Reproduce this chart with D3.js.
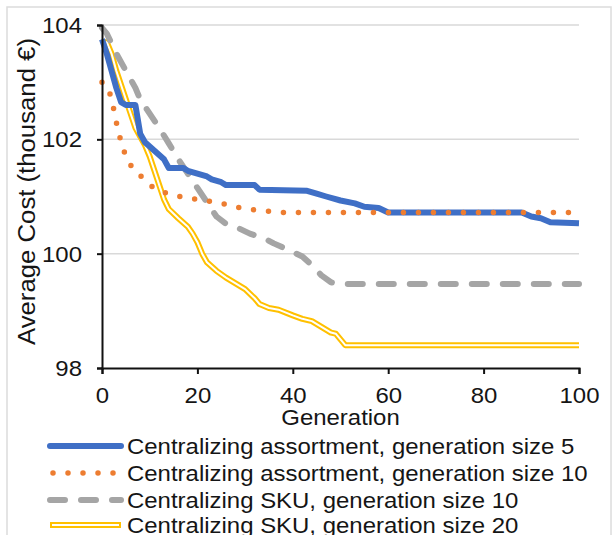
<!DOCTYPE html>
<html>
<head>
<meta charset="utf-8">
<script src="https://cdn.jsdelivr.net/npm/d3@7"></script>
<style>
  html, body { margin: 0; padding: 0; background: #fff; }
  svg { display: block; }
  text { font-family: "Liberation Sans", Arial, sans-serif; fill: #151515; }
</style>
</head>
<body>
<div id="chart"></div>
<script>
// ---- data ----
const seriesNames = [
  "Centralizing assortment, generation size 5",
  "Centralizing assortment, generation size 10",
  "Centralizing SKU, generation size 10",
  "Centralizing SKU, generation size 20"
];
const blueGen = [0,1,2,3,4,5,7,8,9,11,13,14,17,18,20,22,23,25,26,32,33,43,45,47,50,53,55,58,60,88,90,92,94,100];
const blueVal = [103.75,103.5,103.2,102.9,102.65,102.6,102.6,102.1,101.95,101.8,101.65,101.5,101.5,101.45,101.4,101.35,101.3,101.25,101.2,101.2,101.12,101.1,101.05,101.0,100.93,100.88,100.82,100.8,100.72,100.72,100.65,100.62,100.55,100.53];
const orangeGen = [0,1,2,3,4,5,6,7,9,11,15,20,25,30,38,100];
const orangeVal = [103.0,102.95,102.72,102.3,101.95,101.7,101.55,101.43,101.3,101.13,101.02,100.95,100.88,100.78,100.72,100.72];
const greyGen = [0,1,3,5,7,8,10,12,14,16,18,20,22,24,26,28,31,34,36,40,42,44,46,48,50,100];
const greyVal = [103.95,103.85,103.5,103.2,102.9,102.7,102.45,102.2,101.93,101.65,101.4,101.15,100.9,100.65,100.52,100.47,100.35,100.27,100.18,100.03,99.95,99.8,99.62,99.5,99.47,99.47];
const yellowGen = [0,1,2,3,4,5,6,7,8,9,10,11,12,13,14,16,18,19,20,21,22,24,26,28,30,32,33,35,37,40,42,44,46,48,49,50,51,100];
const yellowVal = [103.7,103.7,103.5,103.2,102.95,102.7,102.45,102.2,102.05,101.9,101.7,101.45,101.2,100.95,100.78,100.62,100.47,100.35,100.2,100.0,99.85,99.7,99.58,99.48,99.38,99.22,99.12,99.05,99.02,98.92,98.86,98.82,98.72,98.62,98.6,98.5,98.4,98.4];
const xTicks = [0,20,40,60,80,100];
const yTicks = [98,100,102,104];
const xTitle = "Generation";
const yTitle = "Average Cost (thousand €)";

const W = 616, H = 535;
const FS = 21.5, SX = 1.115;   // font size and horizontal stretch of the reference text
const svg = d3.select("#chart").append("svg").attr("width", W).attr("height", H);

// frame
svg.append("rect").attr("x", 7).attr("y", 7).attr("width", 604).attr("height", 540)
  .attr("fill", "#fff").attr("stroke", "#dcdcdc").attr("stroke-width", 1.5);

const x = d3.scaleLinear().domain([0, 100]).range([102, 579]);
const y = d3.scaleLinear().domain([98, 104]).range([368, 25]);

// gridlines
svg.append("g").selectAll("line").data(yTicks.filter(d => d !== 98)).join("line")
  .attr("x1", x(0)).attr("x2", x(100))
  .attr("y1", d => y(d)).attr("y2", d => y(d))
  .attr("stroke", "#d9d9d9").attr("stroke-width", 1.5);

// series
const mk = (g, v) => g.map((d, i) => [d, v[i]]);
const line = d3.line().x(d => x(d[0])).y(d => y(d[1]));
const plot = svg.append("g");

plot.append("path").datum(mk(yellowGen, yellowVal)).attr("d", line)
  .attr("fill", "none").attr("stroke", "#FFC000").attr("stroke-width", 6).attr("stroke-linejoin", "round");
plot.append("path").datum(mk(yellowGen, yellowVal)).attr("d", line)
  .attr("fill", "none").attr("stroke", "#fff").attr("stroke-width", 2).attr("stroke-linejoin", "round");

plot.append("path").datum(mk(greyGen, greyVal)).attr("d", line)
  .attr("fill", "none").attr("stroke", "#A5A5A5").attr("stroke-width", 6)
  .attr("stroke-dasharray", "15,16").attr("stroke-linecap", "round").attr("stroke-linejoin", "round");

plot.append("path").datum(mk(blueGen, blueVal)).attr("d", line)
  .attr("fill", "none").attr("stroke", "#3F6FC6").attr("stroke-width", 6).attr("stroke-linejoin", "round");

plot.append("path").datum(mk(orangeGen, orangeVal)).attr("d", line)
  .attr("fill", "none").attr("stroke", "#ED7D31").attr("stroke-width", 5.5)
  .attr("stroke-dasharray", "0,15").attr("stroke-linecap", "round");

// axes
const xAxis = svg.append("g").attr("transform", `translate(0,${y(98)})`)
  .call(d3.axisBottom(x).tickValues(xTicks).tickFormat(d3.format("d")).tickSize(6).tickPadding(14));
const yAxis = svg.append("g").attr("transform", `translate(${x(0)},0)`)
  .call(d3.axisLeft(y).tickValues(yTicks).tickFormat(d3.format("d")).tickSize(5).tickPadding(15));
[xAxis, yAxis].forEach(a => {
  a.select(".domain").attr("stroke", "#111").attr("stroke-width", 2);
  a.selectAll(".tick line").attr("stroke", "#111").attr("stroke-width", 2);
  a.selectAll(".tick text").attr("font-size", FS).attr("fill", "#151515")
    .attr("font-family", "Liberation Sans, Arial, sans-serif");
});
xAxis.selectAll(".tick text").attr("transform", `scale(${SX},1)`);
yAxis.selectAll(".tick text").attr("x", 0).attr("dy", "0.35em")
  .attr("transform", `translate(-20,0) scale(${SX},1)`);

// axis titles
svg.append("text").attr("transform", `translate(${x(50)},425) scale(${SX},1)`)
  .attr("text-anchor", "middle").attr("font-size", FS).text(xTitle);
svg.append("text").attr("transform", `translate(27,191.5) rotate(-90)`).attr("dy", "0.35em")
  .attr("text-anchor", "middle").attr("font-size", 23.5)
  .attr("textLength", 307).attr("lengthAdjust", "spacingAndGlyphs").text(yTitle);

// legend
const legY = [446, 473, 500, 525];
const leg = svg.append("g");
const styles = [
  {stroke: "#3F6FC6", w: 6},
  {stroke: "#ED7D31", w: 5.5, dash: "0,15", cap: "round"},
  {stroke: "#A5A5A5", w: 6, dash: "15,16", cap: "round"},
  {stroke: "#FFC000", w: 6, double: true}
];
seriesNames.forEach((name, i) => {
  const s = styles[i];
  const x1 = i === 1 ? 53 : 50, x2 = i === 1 ? 120 : 121;
  const l = leg.append("line").attr("x1", x1).attr("x2", x2).attr("y1", legY[i]).attr("y2", legY[i])
    .attr("stroke", s.stroke).attr("stroke-width", s.w).attr("stroke-linecap", s.cap || "round");
  if (s.dash) l.attr("stroke-dasharray", s.dash);
  if (s.double) {
    l.attr("stroke-linecap", "butt");
    leg.append("line").attr("x1", x1 + 2).attr("x2", x2 - 2).attr("y1", legY[i]).attr("y2", legY[i])
      .attr("stroke", "#fff").attr("stroke-width", 2);
  }
  leg.append("text").attr("transform", `translate(127,${legY[i]}) scale(${SX},1)`).attr("dy", "0.35em")
    .attr("font-size", FS).text(name);
});
</script>
</body>
</html>
